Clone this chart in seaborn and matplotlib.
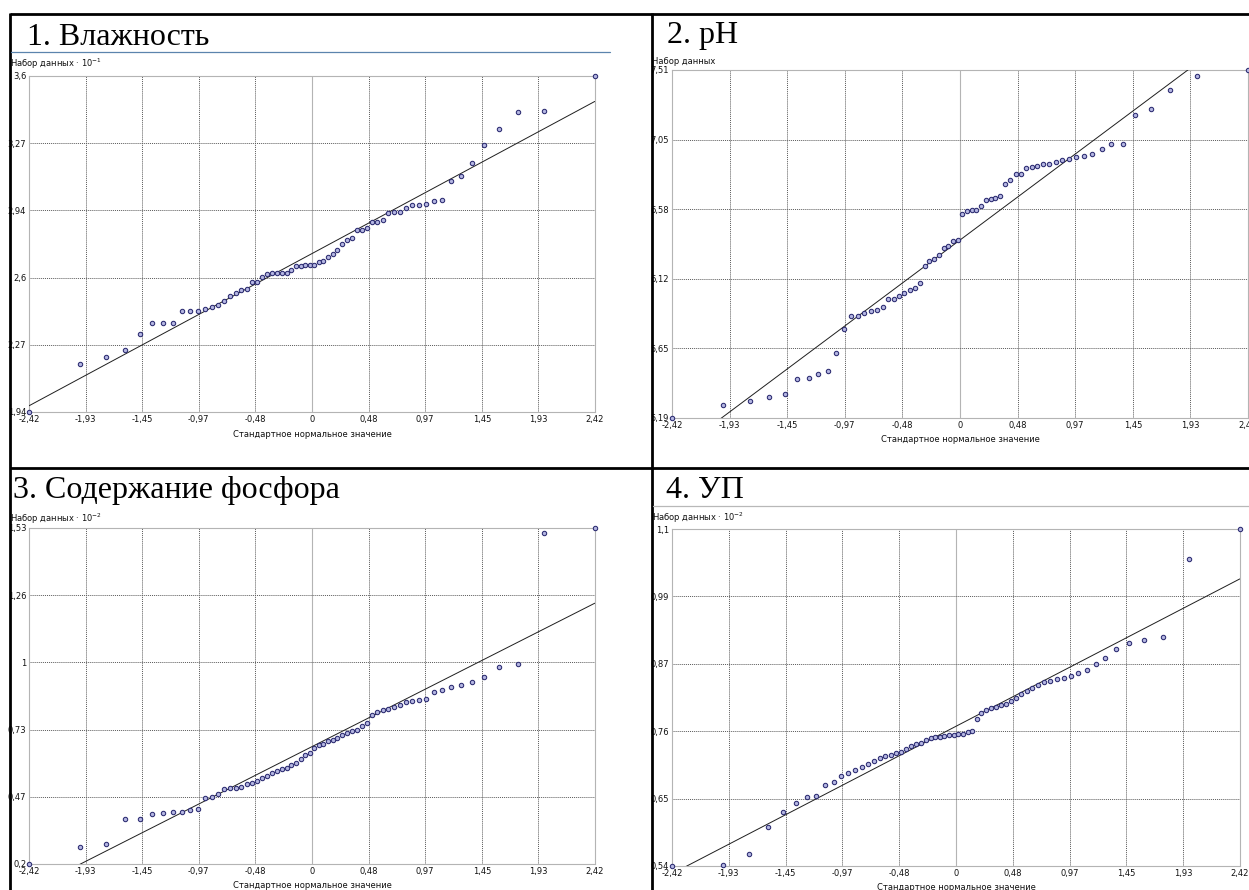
import numpy as np
import matplotlib
matplotlib.use("Agg")
import matplotlib.pyplot as plt
from matplotlib.lines import Line2D
import seaborn as sns

# standard normal quantiles on the x axis (n = 64, same for all four samples)
z_scores = [-2.418, -1.988, -1.762, -1.601, -1.473, -1.366, -1.273, -1.189,
            -1.113, -1.043, -0.978, -0.917, -0.858, -0.803, -0.750, -0.700,
            -0.650, -0.603, -0.556, -0.511, -0.467, -0.424, -0.381, -0.339,
            -0.298, -0.257, -0.217, -0.177, -0.137, -0.098, -0.059, -0.020,
            0.020, 0.059, 0.098, 0.137, 0.177, 0.217, 0.257, 0.298,
            0.339, 0.381, 0.424, 0.467, 0.511, 0.556, 0.603, 0.650,
            0.700, 0.750, 0.803, 0.858, 0.917, 0.978, 1.043, 1.113,
            1.189, 1.273, 1.366, 1.473, 1.601, 1.762, 1.988, 2.418]

# sorted samples (as displayed, with the multipliers from the axis captions)
moisture = [1.94, 2.177, 2.21, 2.246, 2.325, 2.38, 2.38, 2.38, 2.439, 2.439, 2.439,
            2.447, 2.459, 2.467, 2.488, 2.511, 2.528, 2.541, 2.548, 2.581, 2.581,
            2.607, 2.62, 2.628, 2.628, 2.628, 2.628, 2.64, 2.66, 2.66, 2.666, 2.666,
            2.666, 2.679, 2.688, 2.707, 2.721, 2.74, 2.768, 2.788, 2.80, 2.839, 2.839,
            2.847, 2.88, 2.88, 2.889, 2.922, 2.928, 2.928, 2.948, 2.961, 2.961, 2.968,
            2.981, 2.987, 3.08, 3.108, 3.169, 3.259, 3.34, 3.42, 3.429, 3.60]

ph = [5.19, 5.279, 5.301, 5.33, 5.353, 5.453, 5.457, 5.484, 5.502, 5.622,
      5.784, 5.871, 5.871, 5.893, 5.906, 5.911, 5.931, 5.982, 5.986, 6.004,
      6.022, 6.044, 6.06, 6.093, 6.202, 6.24, 6.247, 6.28, 6.322, 6.34,
      6.373, 6.378, 6.549, 6.569, 6.574, 6.578, 6.605, 6.645, 6.651, 6.66,
      6.671, 6.749, 6.778, 6.82, 6.82, 6.854, 6.861, 6.869, 6.881, 6.881,
      6.894, 6.907, 6.916, 6.932, 6.936, 6.947, 6.985, 7.014, 7.014, 7.212,
      7.252, 7.379, 7.472, 7.51]

phosphorus = [0.20, 0.267, 0.279, 0.378, 0.378, 0.398, 0.40, 0.406, 0.406, 0.414,
              0.418, 0.46, 0.465, 0.477, 0.497, 0.50, 0.50, 0.505, 0.516, 0.52,
              0.53, 0.54, 0.55, 0.56, 0.57, 0.575, 0.58, 0.59, 0.60, 0.615,
              0.63, 0.64, 0.66, 0.67, 0.675, 0.685, 0.69, 0.70, 0.71, 0.72,
              0.725, 0.73, 0.745, 0.76, 0.79, 0.80, 0.81, 0.815, 0.82, 0.83,
              0.84, 0.845, 0.85, 0.855, 0.88, 0.89, 0.90, 0.91, 0.92, 0.94,
              0.98, 0.99, 1.51, 1.53]

up = [0.54, 0.542, 0.56, 0.605, 0.63, 0.645, 0.655, 0.656, 0.675, 0.68,
      0.69, 0.695, 0.70, 0.705, 0.71, 0.715, 0.72, 0.722, 0.725, 0.728,
      0.73, 0.735, 0.74, 0.742, 0.745, 0.75, 0.752, 0.755, 0.755, 0.756,
      0.757, 0.758, 0.76, 0.76, 0.762, 0.765, 0.785, 0.795, 0.80, 0.802,
      0.805, 0.808, 0.81, 0.815, 0.82, 0.825, 0.83, 0.835, 0.84, 0.845,
      0.848, 0.85, 0.852, 0.855, 0.86, 0.865, 0.875, 0.885, 0.90, 0.91,
      0.915, 0.92, 1.05, 1.10]

titles = ["1. Влажность", "2. pH", "3. Содержание фосфора", "4. УП"]
captions = ["Набор данных · 10$^{-1}$", "Набор данных",
            "Набор данных · 10$^{-2}$", "Набор данных · 10$^{-2}$"]
x_label = "Стандартное нормальное значение"
x_tick_labels = ["-2,42", "-1,93", "-1,45", "-0,97", "-0,48", "0",
                 "0,48", "0,97", "1,45", "1,93", "2,42"]
y_tick_labels = [["1,94", "2,27", "2,6", "2,94", "3,27", "3,6"],
                 ["5,19", "5,65", "6,12", "6,58", "7,05", "7,51"],
                 ["0,2", "0,47", "0,73", "1", "1,26", "1,53"],
                 ["0,54", "0,65", "0,76", "0,87", "0,99", "1,1"]]
samples = [moisture, ph, phosphorus, up]

W, H = 1249, 890

# pixel layout of each panel: plot box (l, t, r, b), caption, title
plot_boxes = [(29, 76, 595, 412), (672, 70, 1248, 418),
              (29, 528, 595, 864), (672, 529, 1240, 866)]
caption_pos = [(10, 64), (652, 61), (10, 519), (652, 518)]
title_pos = [(27, 45), (667, 43), (13, 498), (666, 498)]

sns.set_style("white")
plt.rcParams["font.family"] = ["DejaVu Sans"]

fig = plt.figure(figsize=(W / 100, H / 100), dpi=100)


def fx(x):
    return x / W


def fy(y):
    return 1 - y / H


dot_grid = dict(color="#5a5a5a", lw=0.7, ls=(0, (1, 1)), zorder=1)
frame_col = "#b4b4b4"

for i, vals in enumerate(samples):
    l, t, r, b = plot_boxes[i]
    ax = fig.add_axes([fx(l), fy(b), (r - l) / W, (b - t) / H])
    lo, hi = vals[0], vals[-1]

    sns.regplot(x=np.array(z_scores), y=np.array(vals), ax=ax, ci=None,
                scatter_kws=dict(s=10, color="#b4b6e2", edgecolor="#2a2a70",
                                 linewidths=0.75, alpha=1, clip_on=False, zorder=4),
                line_kws=dict(color="#1e1e1e", lw=0.7, zorder=3))

    ax.set_xlim(-2.42, 2.42)
    ax.set_ylim(lo, hi)
    xt = np.linspace(-2.42, 2.42, 11)
    yt = np.linspace(lo, hi, 6)
    ax.set_xticks(xt)
    ax.set_xticklabels(x_tick_labels)
    ax.set_yticks(yt)
    ax.set_yticklabels(y_tick_labels[i])
    ax.tick_params(length=0, pad=2, labelsize=6, colors="#111111")

    for v in xt[1:-1]:
        if abs(v) < 1e-9:
            ax.axvline(v, color=frame_col, lw=0.8, zorder=1)
        else:
            ax.axvline(v, **dot_grid)
    for v in yt[1:-1]:
        ax.axhline(v, **dot_grid)

    for s in ax.spines.values():
        s.set_color(frame_col)
        s.set_linewidth(0.8)
    ax.set_xlabel("")
    ax.set_ylabel("")

    fig.text(fx((l + r) / 2), fy(b + 22), x_label, fontsize=6,
             ha="center", va="center", color="#111111")
    cx, cy = caption_pos[i]
    fig.text(fx(cx), fy(cy), captions[i], fontsize=6, ha="left", va="center",
             color="#111111")
    tx, ty = title_pos[i]
    fig.text(fx(tx), fy(ty), titles[i], fontsize=23, ha="left", va="baseline",
             family=["Liberation Serif", "DejaVu Serif"], color="black")

# table borders of the source document
border = dict(color="black", lw=2.0, solid_capstyle="butt")
fig.add_artist(Line2D([fx(10), fx(W)], [fy(14), fy(14)], **border))
fig.add_artist(Line2D([fx(10), fx(W)], [fy(468), fy(468)], **border))
fig.add_artist(Line2D([fx(10), fx(10)], [fy(13), fy(H)], **border))
fig.add_artist(Line2D([fx(652), fx(652)], [fy(13), fy(H)], **border))
# thin rules under two of the titles
fig.add_artist(Line2D([fx(11), fx(610)], [fy(52), fy(52)], color="#5b84ad", lw=0.9))
fig.add_artist(Line2D([fx(653), fx(W)], [fy(506), fy(506)], color="#b8b8b8", lw=0.9))

fig.savefig("out.png", dpi=100)
